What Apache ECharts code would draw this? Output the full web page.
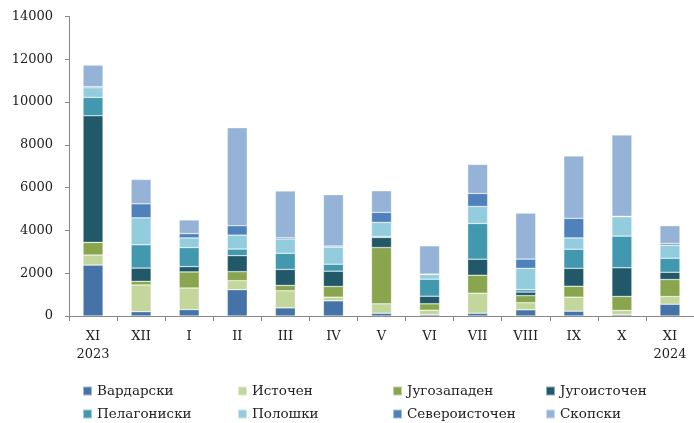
<!DOCTYPE html>
<html>
<head>
<meta charset="utf-8">
<script src="https://cdn.jsdelivr.net/npm/echarts@6/dist/echarts.min.js"></script>
<style>
  html, body { margin: 0; padding: 0; background: #fff; }
  #main { width: 694px; height: 423px; }
</style>
</head>
<body>
<div id="main"></div>
<script>
// месеци
const categories = ['XI\n2023', 'XII', 'I', 'II', 'III', 'IV', 'V', 'VI', 'VII', 'VIII', 'IX', 'X', 'XI\n2024'];
const regions = ['Вардарски', 'Источен', 'Југозападен', 'Југоисточен', 'Пелагониски', 'Полошки', 'Североисточен', 'Скопски'];
const colors = ['#4572A7', '#C3D69B', '#89A54E', '#215968', '#4198AF', '#93CDDD', '#4F81BD', '#95B3D7'];

const vardarski     = [2380, 200, 300, 1230, 380, 710, 130, 60, 130, 290, 225, 60, 550];
const istochen      = [470, 1250, 1010, 420, 800, 170, 440, 210, 935, 330, 655, 200, 360];
const jugozapaden   = [590, 170, 750, 420, 250, 500, 2630, 300, 840, 330, 510, 655, 795];
const jugoistochen  = [5920, 620, 250, 750, 750, 715, 470, 355, 750, 170, 840, 1340, 340];
const pelagoniski   = [860, 1090, 890, 310, 750, 325, 50, 795, 1670, 110, 890, 1480, 655];
const poloshki      = [450, 1260, 450, 650, 670, 800, 655, 220, 795, 1000, 530, 905, 610];
const severoistochen= [50, 655, 200, 440, 60, 50, 470, 20, 610, 430, 915, 20, 80];
const skopski       = [1010, 1140, 640, 4580, 2180, 2400, 1010, 1320, 1355, 2150, 2915, 3800, 830];

const seriesData = [vardarski, istochen, jugozapaden, jugoistochen, pelagoniski, poloshki, severoistochen, skopski];

const yTicks = [0, 2000, 4000, 6000, 8000, 10000, 12000, 14000];

const font = '"DejaVu Serif", "Liberation Serif", serif';

const myChart = echarts.init(document.getElementById('main'));

// легенда во две редици по четири
const legendX = [82, 237, 392, 545];
const legendY = [384, 407];
const legends = regions.map((name, i) => ({
  data: [name],
  left: legendX[i % 4],
  top: legendY[Math.floor(i / 4)],
  padding: 0,
  itemWidth: 9,
  itemHeight: 9,
  icon: 'rect',
  itemGap: 4,
  selectedMode: false,
  textStyle: { fontFamily: font, fontSize: 13.5, color: '#222' }
}));

const option = {
  animation: false,
  color: colors,
  textStyle: { fontFamily: font },
  grid: { left: 69, top: 16.5, width: 628, height: 299.5 },
  legend: legends,
  xAxis: {
    type: 'category',
    data: categories,
    axisLine: { lineStyle: { color: '#888' } },
    axisTick: { show: true, alignWithLabel: false, length: 5, lineStyle: { color: '#888' } },
    axisLabel: { fontFamily: font, fontSize: 13, color: '#222', margin: 12, lineHeight: 18, interval: 0 }
  },
  yAxis: {
    type: 'value',
    min: 0,
    max: 14000,
    interval: 2000,
    splitLine: { show: false },
    axisLine: { show: true, lineStyle: { color: '#888' } },
    axisTick: { show: true, length: 4, lineStyle: { color: '#888' } },
    axisLabel: {
      fontFamily: font, fontSize: 13, color: '#222', margin: 16,
      formatter: v => (yTicks.includes(v) ? String(v) : '')
    }
  },
  series: regions.map((name, i) => ({
    name: name,
    type: 'bar',
    stack: 'total',
    barWidth: 20,
    data: seriesData[i],
    itemStyle: { color: colors[i], borderColor: 'rgba(255,255,255,0.5)', borderWidth: 0.6 }
  }))
};

myChart.setOption(option);
</script>
</body>
</html>
